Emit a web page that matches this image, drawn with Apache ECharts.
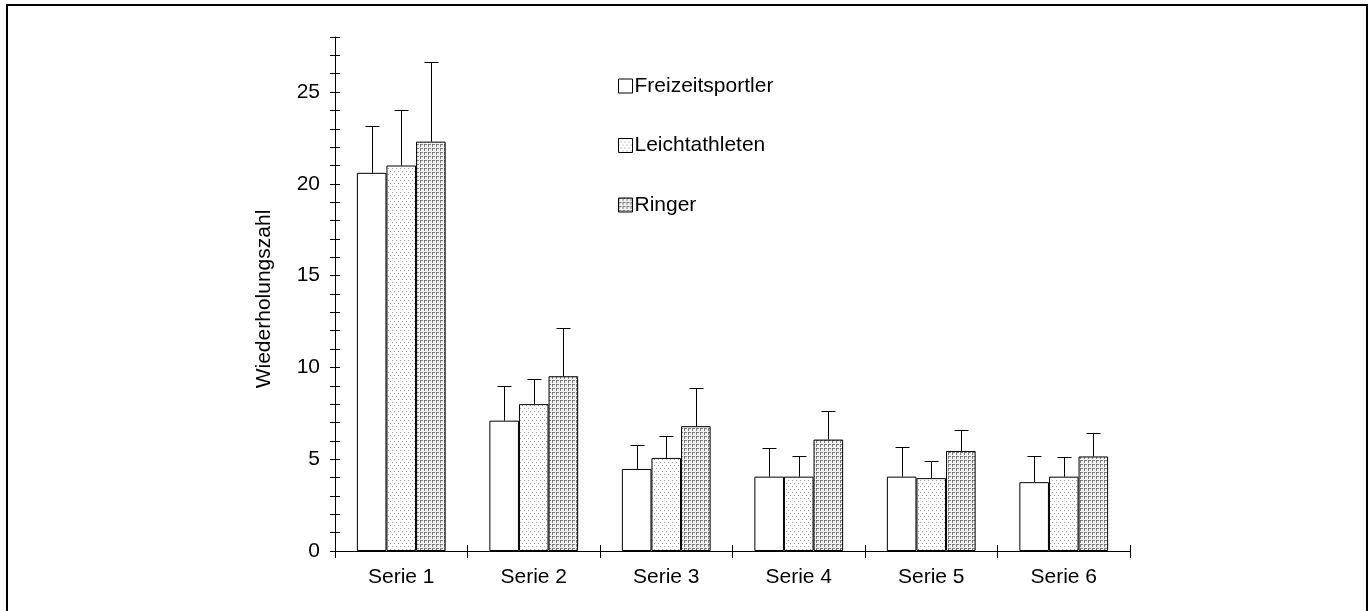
<!DOCTYPE html>
<html>
<head>
<meta charset="utf-8">
<script src="https://cdn.jsdelivr.net/npm/echarts@6/dist/echarts.min.js"></script>
<style>html,body{margin:0;padding:0;background:#fff}#c{width:1372px;height:611px}</style>
</head>
<body>
<div id="c"></div>
<script>
const categories = ['Serie 1','Serie 2','Serie 3','Serie 4','Serie 5','Serie 6'];
const seriesNames = ['Freizeitsportler','Leichtathleten','Ringer'];
const freizeitMean = [20.6, 7.1, 4.47, 4.05, 4.05, 3.75];
const freizeitUpper = [23.15, 8.97, 5.77, 5.6, 5.65, 5.2];
const leichtMean = [21.0, 8.0, 5.07, 4.05, 3.97, 4.05];
const leichtUpper = [24.0, 9.35, 6.27, 5.17, 4.9, 5.1];
const ringerMean = [22.3, 9.52, 6.8, 6.07, 5.45, 5.15];
const ringerUpper = [26.65, 12.17, 8.88, 7.65, 6.58, 6.43];
const yTicks = [0, 5, 10, 15, 20, 25];

function makeTile(draw, w, h) {
  const cv = document.createElement('canvas');
  cv.width = w; cv.height = h;
  const ctx = cv.getContext('2d');
  ctx.fillStyle = '#fff'; ctx.fillRect(0, 0, w, h);
  draw(ctx);
  return cv;
}
const dotTile = makeTile(ctx => {
  ctx.fillStyle = '#9a9a9a';
  ctx.fillRect(0, 0, 1, 1);
  ctx.fillRect(4, 0, 1, 1);
  ctx.fillRect(2, 3, 1, 1);
  ctx.fillRect(6, 3, 1, 1);
}, 8, 6);
const gridTile = makeTile(ctx => {
  ctx.fillStyle = '#f2f2f2'; ctx.fillRect(0, 0, 4, 4);
  ctx.fillStyle = '#7a7a7a';
  ctx.fillRect(0, 0, 3, 1);
  ctx.fillRect(0, 0, 1, 3);
}, 4, 4);

const fills = ['#ffffff', {image: dotTile, repeat: 'repeat'}, {image: gridTile, repeat: 'repeat'}];
const means = [freizeitMean, leichtMean, ringerMean];
const uppers = [freizeitUpper, leichtUpper, ringerUpper];
const GAP = 0.33;

const series = [];
seriesNames.forEach((n, i) => {
  series.push({
    name: n, type: 'bar', data: means[i],
    barGap: '0%', barCategoryGap: '33%',
    itemStyle: {color: fills[i], borderColor: '#000', borderWidth: 1},
    emphasis: {disabled: true}, z: 2
  });
});
seriesNames.forEach((n, i) => {
  series.push({
    name: 'err' + i, type: 'custom', z: 5,
    data: categories.map((c, k) => [k, means[i][k], uppers[i][k]]),
    renderItem: function (params, api) {
      const base = api.coord([api.value(0), api.value(1)]);
      const top = api.coord([api.value(0), api.value(2)]);
      const band = api.size([1, 0])[0];
      const bw = band * (1 - GAP) / 3;
      const cx = Math.round(base[0] + (i - 1) * bw) + 0.5;
      const ty = Math.round(top[1]) + 0.5;
      const st = {stroke: '#000', lineWidth: 1};
      return {type: 'group', children: [
        {type: 'line', shape: {x1: cx, y1: base[1], x2: cx, y2: ty}, style: st},
        {type: 'line', shape: {x1: cx - 7, y1: ty, x2: cx + 7, y2: ty}, style: st}
      ]};
    }
  });
});

const font = 'Liberation Sans, Arial, sans-serif';
const FS = 21;
const chart = echarts.init(document.getElementById('c'), null, {renderer: 'canvas'});
chart.setOption({
  animation: false,
  backgroundColor: '#fff',
  textStyle: {fontFamily: font},
  grid: {left: 335, right: 242, top: 37, bottom: 60, containLabel: false},
  legend: {
    data: seriesNames, orient: 'vertical', left: 613, top: 70.5,
    itemWidth: 14, itemHeight: 14, itemGap: 38.5, icon: 'rect',
    itemStyle: {borderColor: '#000', borderWidth: 1},
    textStyle: {fontSize: FS, color: '#000', fontFamily: font, padding: [0, 0, 0, -3]},
    selectedMode: false
  },
  xAxis: [
    {type: 'category', data: categories, position: 'bottom',
     axisLine: {lineStyle: {color: '#000', width: 1}},
     axisTick: {show: true, alignWithLabel: false, length: 7, lineStyle: {color: '#000'}},
     axisLabel: {fontSize: FS, color: '#000', margin: 16, fontFamily: font},
     splitLine: {show: false}},
    {type: 'category', data: categories, position: 'bottom', gridIndex: 0,
     axisLine: {show: false},
     axisTick: {show: true, inside: true, length: 6, lineStyle: {color: '#000'}},
     axisLabel: {show: false}, splitLine: {show: false}}
  ],
  yAxis: [
    {type: 'value', min: 0, max: 28, interval: 5,
     name: 'Wiederholungszahl', nameLocation: 'middle', nameGap: 60, nameRotate: 90,
     nameTextStyle: {fontSize: FS, color: '#000', fontFamily: font, padding: [0, 10, 0, 0]},
     axisLine: {show: true, lineStyle: {color: '#000', width: 1}},
     axisTick: {show: true, length: 5, lineStyle: {color: '#000'}},
     minorTick: {show: true, splitNumber: 5, length: 5, lineStyle: {color: '#000'}},
     axisLabel: {fontSize: FS, color: '#000', margin: 15, fontFamily: font,
       formatter: v => yTicks.indexOf(v) >= 0 ? String(v) : ''},
     splitLine: {show: false}},
    {type: 'value', min: 0, max: 28, interval: 5, position: 'left',
     axisLine: {show: false},
     axisTick: {show: true, inside: true, length: 5, lineStyle: {color: '#000'}},
     minorTick: {show: true, splitNumber: 5, length: 5, lineStyle: {color: '#000'}},
     axisLabel: {show: false}, splitLine: {show: false}}
  ],
  graphic: [{type: 'rect', shape: {x: 7, y: 5, width: 1360, height: 640},
    style: {fill: 'none', stroke: '#000', lineWidth: 2}, silent: true}],
  series: series
});
</script>
</body>
</html>
